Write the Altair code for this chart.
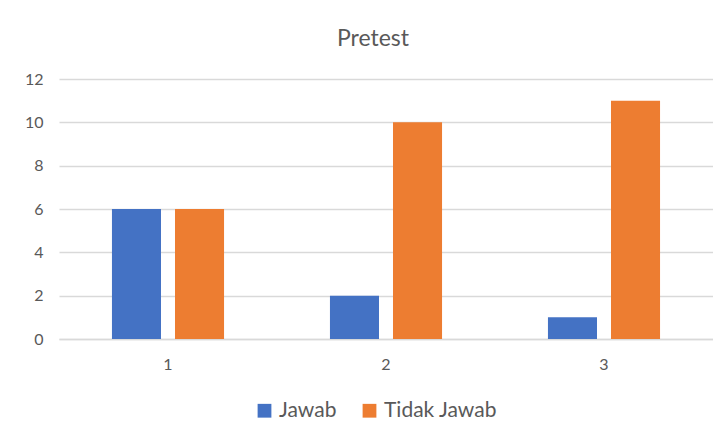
import altair as alt
import pandas as pd

categories = ["1", "2", "3"]
jawab = [6, 2, 1]
tidak_jawab = [6, 10, 11]
series_names = ["Jawab", "Tidak Jawab"]
colors = ["#4472C4", "#ED7D31"]

rows = []
for c, a, b in zip(categories, jawab, tidak_jawab):
    rows.append({"kategori": c, "seri": series_names[0], "nilai": a})
    rows.append({"kategori": c, "seri": series_names[1], "nilai": b})
df = pd.DataFrame(rows)

FONT = "Lato"
GREY = "#595959"

chart = alt.Chart(df).mark_bar().encode(
    x=alt.X("kategori:N", sort=categories,
            scale=alt.Scale(paddingInner=0, paddingOuter=0),
            axis=alt.Axis(title=None, labelAngle=0, ticks=False, grid=False,
                          domainColor="#D9D9D9", domainWidth=1.5,
                          labelPadding=17, labelFontSize=16, labelColor=GREY,
                          labelFont=FONT)),
    xOffset=alt.XOffset("seri:N", sort=series_names,
                        scale=alt.Scale(paddingInner=0.222, paddingOuter=0.84)),
    y=alt.Y("nilai:Q",
            scale=alt.Scale(domain=[0, 12], nice=False),
            axis=alt.Axis(title=None, values=[0, 2, 4, 6, 8, 10, 12], domain=False,
                          ticks=False, gridColor="#D9D9D9", gridWidth=1.5,
                          labelPadding=16, labelFontSize=16, labelColor=GREY,
                          labelFont=FONT)),
    color=alt.Color("seri:N",
                    scale=alt.Scale(domain=series_names, range=colors),
                    legend=alt.Legend(title=None, orient="none", direction="horizontal",
                                      legendX=195, legendY=321, symbolType="square",
                                      symbolSize=190, symbolStrokeWidth=0,
                                      labelFontSize=21, labelColor=GREY, labelFont=FONT,
                                      columnPadding=22, labelOffset=4, padding=0)),
).properties(
    width=654,
    height=260,
    title=alt.TitleParams("Pretest", fontSize=23, font=FONT, color=GREY,
                          fontWeight="normal", anchor="middle", dx=-13, offset=20),
    autosize=alt.AutoSizeParams(type="none"),
    padding={"left": 51, "top": 71, "right": 0, "bottom": 91},
).configure_view(stroke=None)

chart.save("out.html", embed_options={"renderer": "svg", "actions": False})
